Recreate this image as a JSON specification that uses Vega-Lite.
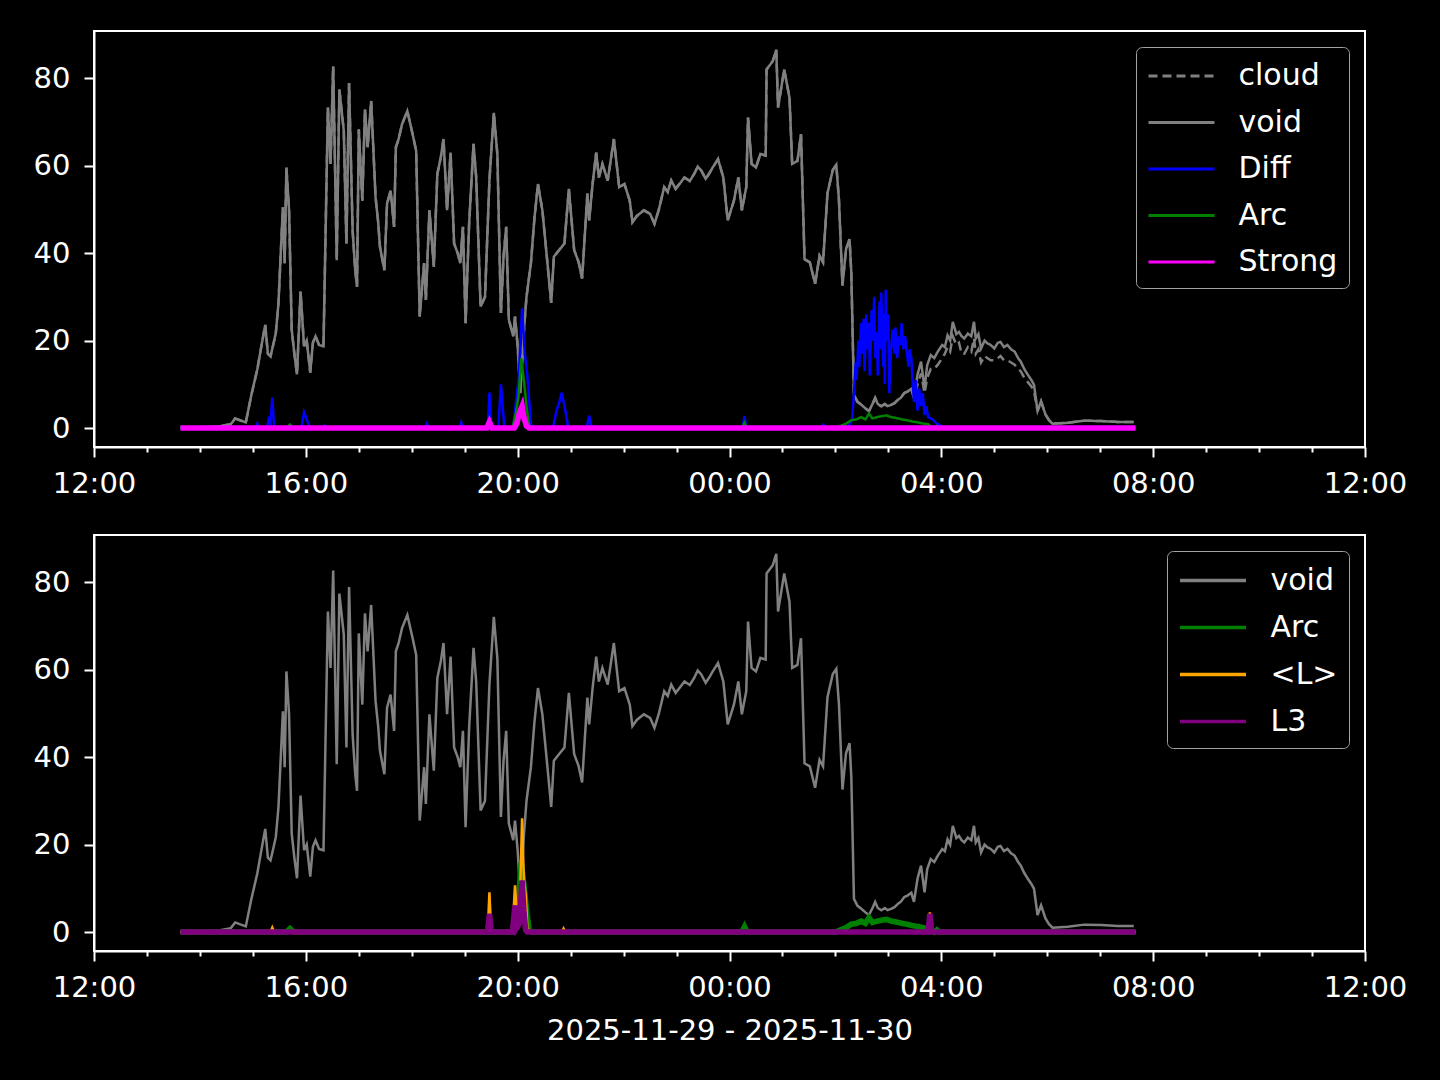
{
"$schema": "https://vega.github.io/schema/vega-lite/v6.json",
"background": "black",
"padding": {"left": 32, "top": 30, "right": 32, "bottom": 35},
"spacing": 88,
"bounds": "flush",
"datasets": {
"gray": [
{"t":"2025-11-29T13:38","void":0.2,"cloud":0.2},
{"t":"2025-11-29T14:00","void":0.2,"cloud":0.2},
{"t":"2025-11-29T14:20","void":0.3,"cloud":0.3},
{"t":"2025-11-29T14:35","void":0.9,"cloud":0.9},
{"t":"2025-11-29T14:40","void":2.2,"cloud":2.2},
{"t":"2025-11-29T14:45","void":1.8,"cloud":1.8},
{"t":"2025-11-29T14:52","void":1.3,"cloud":1.3},
{"t":"2025-11-29T14:58","void":7.3,"cloud":7.3},
{"t":"2025-11-29T15:05","void":13.4,"cloud":13.4},
{"t":"2025-11-29T15:09","void":18,"cloud":18},
{"t":"2025-11-29T15:14","void":23.6,"cloud":23.6},
{"t":"2025-11-29T15:17","void":17,"cloud":17},
{"t":"2025-11-29T15:20","void":16.4,"cloud":16.4},
{"t":"2025-11-29T15:23","void":19,"cloud":19},
{"t":"2025-11-29T15:26","void":21.7,"cloud":21.7},
{"t":"2025-11-29T15:29","void":28.6,"cloud":28.6},
{"t":"2025-11-29T15:34","void":50.5,"cloud":50.5},
{"t":"2025-11-29T15:36","void":37.7,"cloud":37.7},
{"t":"2025-11-29T15:38","void":59.6,"cloud":59.6},
{"t":"2025-11-29T15:41","void":49.8,"cloud":49.8},
{"t":"2025-11-29T15:44","void":22.5,"cloud":22.5},
{"t":"2025-11-29T15:47","void":17,"cloud":17},
{"t":"2025-11-29T15:50","void":12.3,"cloud":12.3},
{"t":"2025-11-29T15:54","void":31.2,"cloud":31.2},
{"t":"2025-11-29T15:58","void":18.7,"cloud":18.7},
{"t":"2025-11-29T16:01","void":20,"cloud":20},
{"t":"2025-11-29T16:05","void":12.7,"cloud":12.7},
{"t":"2025-11-29T16:08","void":19.5,"cloud":19.5},
{"t":"2025-11-29T16:11","void":21,"cloud":21},
{"t":"2025-11-29T16:15","void":19,"cloud":19},
{"t":"2025-11-29T16:20","void":18.7,"cloud":18.7},
{"t":"2025-11-29T16:25","void":73.3,"cloud":73.3},
{"t":"2025-11-29T16:28","void":60.4,"cloud":60.4},
{"t":"2025-11-29T16:31","void":82.7,"cloud":82.7},
{"t":"2025-11-29T16:35","void":38.4,"cloud":38.4},
{"t":"2025-11-29T16:38","void":77.4,"cloud":77.4},
{"t":"2025-11-29T16:43","void":68,"cloud":68},
{"t":"2025-11-29T16:46","void":42.2,"cloud":42.2},
{"t":"2025-11-29T16:49","void":78.9,"cloud":78.9},
{"t":"2025-11-29T16:53","void":45.2,"cloud":45.2},
{"t":"2025-11-29T16:56","void":36,"cloud":36},
{"t":"2025-11-29T16:58","void":32.3,"cloud":32.3},
{"t":"2025-11-29T17:00","void":68.3,"cloud":68.3},
{"t":"2025-11-29T17:04","void":52,"cloud":52},
{"t":"2025-11-29T17:07","void":72.9,"cloud":72.9},
{"t":"2025-11-29T17:10","void":64.2,"cloud":64.2},
{"t":"2025-11-29T17:14","void":74.8,"cloud":74.8},
{"t":"2025-11-29T17:19","void":52.8,"cloud":52.8},
{"t":"2025-11-29T17:22","void":47,"cloud":47},
{"t":"2025-11-29T17:24","void":41.4,"cloud":41.4},
{"t":"2025-11-29T17:29","void":36.1,"cloud":36.1},
{"t":"2025-11-29T17:32","void":51.3,"cloud":51.3},
{"t":"2025-11-29T17:36","void":54.3,"cloud":54.3},
{"t":"2025-11-29T17:40","void":46,"cloud":46},
{"t":"2025-11-29T17:42","void":64.2,"cloud":64.2},
{"t":"2025-11-29T17:45","void":66,"cloud":66},
{"t":"2025-11-29T17:49","void":69.5,"cloud":69.5},
{"t":"2025-11-29T17:55","void":72.5,"cloud":72.5},
{"t":"2025-11-29T18:01","void":67.2,"cloud":67.2},
{"t":"2025-11-29T18:05","void":63.4,"cloud":63.4},
{"t":"2025-11-29T18:09","void":25.5,"cloud":25.5},
{"t":"2025-11-29T18:14","void":37.7,"cloud":37.7},
{"t":"2025-11-29T18:16","void":29.3,"cloud":29.3},
{"t":"2025-11-29T18:20","void":49.8,"cloud":49.8},
{"t":"2025-11-29T18:25","void":36.9,"cloud":36.9},
{"t":"2025-11-29T18:29","void":58.1,"cloud":58.1},
{"t":"2025-11-29T18:33","void":62,"cloud":62},
{"t":"2025-11-29T18:36","void":66.1,"cloud":66.1},
{"t":"2025-11-29T18:40","void":49.8,"cloud":49.8},
{"t":"2025-11-29T18:44","void":63,"cloud":63},
{"t":"2025-11-29T18:48","void":42.2,"cloud":42.2},
{"t":"2025-11-29T18:52","void":40,"cloud":40},
{"t":"2025-11-29T18:55","void":37.7,"cloud":37.7},
{"t":"2025-11-29T18:58","void":46,"cloud":46},
{"t":"2025-11-29T19:01","void":24,"cloud":24},
{"t":"2025-11-29T19:05","void":46.7,"cloud":46.7},
{"t":"2025-11-29T19:10","void":65,"cloud":65},
{"t":"2025-11-29T19:13","void":57.3,"cloud":57.3},
{"t":"2025-11-29T19:18","void":27.8,"cloud":27.8},
{"t":"2025-11-29T19:23","void":30,"cloud":30},
{"t":"2025-11-29T19:28","void":56.6,"cloud":56.6},
{"t":"2025-11-29T19:33","void":72.1,"cloud":72.1},
{"t":"2025-11-29T19:37","void":62.6,"cloud":62.6},
{"t":"2025-11-29T19:41","void":26.3,"cloud":26.3},
{"t":"2025-11-29T19:44","void":39.2,"cloud":39.2},
{"t":"2025-11-29T19:47","void":46,"cloud":46},
{"t":"2025-11-29T19:50","void":24.8,"cloud":24.8},
{"t":"2025-11-29T19:55","void":21,"cloud":21},
{"t":"2025-11-29T19:57","void":25.5,"cloud":25.5},
{"t":"2025-11-29T20:00","void":18.7,"cloud":18.7},
{"t":"2025-11-29T20:03","void":8,"cloud":8},
{"t":"2025-11-29T20:07","void":22,"cloud":22},
{"t":"2025-11-29T20:10","void":30,"cloud":30},
{"t":"2025-11-29T20:15","void":37.7,"cloud":37.7},
{"t":"2025-11-29T20:19","void":48,"cloud":48},
{"t":"2025-11-29T20:23","void":55.8,"cloud":55.8},
{"t":"2025-11-29T20:28","void":49.8,"cloud":49.8},
{"t":"2025-11-29T20:32","void":41.4,"cloud":41.4},
{"t":"2025-11-29T20:38","void":28.6,"cloud":28.6},
{"t":"2025-11-29T20:41","void":39.2,"cloud":39.2},
{"t":"2025-11-29T20:47","void":40.7,"cloud":40.7},
{"t":"2025-11-29T20:53","void":42.2,"cloud":42.2},
{"t":"2025-11-29T20:58","void":54.7,"cloud":54.7},
{"t":"2025-11-29T21:04","void":40.7,"cloud":40.7},
{"t":"2025-11-29T21:09","void":38,"cloud":38},
{"t":"2025-11-29T21:13","void":34.2,"cloud":34.2},
{"t":"2025-11-29T21:19","void":53.6,"cloud":53.6},
{"t":"2025-11-29T21:21","void":47.5,"cloud":47.5},
{"t":"2025-11-29T21:25","void":56,"cloud":56},
{"t":"2025-11-29T21:29","void":63,"cloud":63},
{"t":"2025-11-29T21:32","void":57.3,"cloud":57.3},
{"t":"2025-11-29T21:36","void":60.4,"cloud":60.4},
{"t":"2025-11-29T21:42","void":56.6,"cloud":56.6},
{"t":"2025-11-29T21:49","void":66.1,"cloud":66.1},
{"t":"2025-11-29T21:55","void":55.1,"cloud":55.1},
{"t":"2025-11-29T22:01","void":55.8,"cloud":55.8},
{"t":"2025-11-29T22:07","void":52,"cloud":52},
{"t":"2025-11-29T22:10","void":47.1,"cloud":47.1},
{"t":"2025-11-29T22:15","void":48.5,"cloud":48.5},
{"t":"2025-11-29T22:23","void":49.8,"cloud":49.8},
{"t":"2025-11-29T22:30","void":49,"cloud":49},
{"t":"2025-11-29T22:35","void":46.7,"cloud":46.7},
{"t":"2025-11-29T22:40","void":50,"cloud":50},
{"t":"2025-11-29T22:46","void":55.1,"cloud":55.1},
{"t":"2025-11-29T22:50","void":54,"cloud":54},
{"t":"2025-11-29T22:54","void":56.6,"cloud":56.6},
{"t":"2025-11-29T22:59","void":54.7,"cloud":54.7},
{"t":"2025-11-29T23:04","void":56,"cloud":56},
{"t":"2025-11-29T23:09","void":57.3,"cloud":57.3},
{"t":"2025-11-29T23:15","void":56.5,"cloud":56.5},
{"t":"2025-11-29T23:20","void":58.1,"cloud":58.1},
{"t":"2025-11-29T23:24","void":59.8,"cloud":59.8},
{"t":"2025-11-29T23:28","void":58.9,"cloud":58.9},
{"t":"2025-11-29T23:33","void":57,"cloud":57},
{"t":"2025-11-29T23:37","void":58.2,"cloud":58.2},
{"t":"2025-11-29T23:41","void":59.6,"cloud":59.6},
{"t":"2025-11-29T23:47","void":61.5,"cloud":61.5},
{"t":"2025-11-29T23:53","void":57.3,"cloud":57.3},
{"t":"2025-11-29T23:58","void":47.5,"cloud":47.5},
{"t":"2025-11-30T00:05","void":52,"cloud":52},
{"t":"2025-11-30T00:10","void":57.3,"cloud":57.3},
{"t":"2025-11-30T00:14","void":49.8,"cloud":49.8},
{"t":"2025-11-30T00:19","void":55.1,"cloud":55.1},
{"t":"2025-11-30T00:21","void":71,"cloud":71},
{"t":"2025-11-30T00:25","void":60.4,"cloud":60.4},
{"t":"2025-11-30T00:30","void":59.6,"cloud":59.6},
{"t":"2025-11-30T00:35","void":62.7,"cloud":62.7},
{"t":"2025-11-30T00:41","void":62.3,"cloud":62.3},
{"t":"2025-11-30T00:42","void":82,"cloud":82},
{"t":"2025-11-30T00:49","void":83.9,"cloud":83.9},
{"t":"2025-11-30T00:53","void":86.5,"cloud":86.5},
{"t":"2025-11-30T00:55","void":73.3,"cloud":73.3},
{"t":"2025-11-30T01:02","void":82,"cloud":82},
{"t":"2025-11-30T01:08","void":75.5,"cloud":75.5},
{"t":"2025-11-30T01:11","void":60.4,"cloud":60.4},
{"t":"2025-11-30T01:17","void":61.1,"cloud":61.1},
{"t":"2025-11-30T01:21","void":67.2,"cloud":67.2},
{"t":"2025-11-30T01:25","void":38.6,"cloud":38.6},
{"t":"2025-11-30T01:31","void":37.9,"cloud":37.9},
{"t":"2025-11-30T01:37","void":33,"cloud":33},
{"t":"2025-11-30T01:42","void":39.4,"cloud":39.4},
{"t":"2025-11-30T01:46","void":37.9,"cloud":37.9},
{"t":"2025-11-30T01:51","void":53.7,"cloud":53.7},
{"t":"2025-11-30T01:57","void":59,"cloud":59},
{"t":"2025-11-30T02:01","void":60.2,"cloud":60.2},
{"t":"2025-11-30T02:04","void":52.2,"cloud":52.2},
{"t":"2025-11-30T02:08","void":32.6,"cloud":32.6},
{"t":"2025-11-30T02:12","void":40.9,"cloud":40.9},
{"t":"2025-11-30T02:16","void":43.2,"cloud":43.2},
{"t":"2025-11-30T02:18","void":35.6,"cloud":35.6},
{"t":"2025-11-30T02:21","void":7.6,"cloud":7.6},
{"t":"2025-11-30T02:25","void":6,"cloud":6},
{"t":"2025-11-30T02:29","void":5.4,"cloud":5.4},
{"t":"2025-11-30T02:34","void":4.5,"cloud":4.5},
{"t":"2025-11-30T02:38","void":3.9,"cloud":3.9},
{"t":"2025-11-30T02:42","void":5.5,"cloud":5.5},
{"t":"2025-11-30T02:45","void":6.9,"cloud":6.9},
{"t":"2025-11-30T02:48","void":5.5,"cloud":5.5},
{"t":"2025-11-30T02:52","void":5,"cloud":5},
{"t":"2025-11-30T02:56","void":5.5,"cloud":5.5},
{"t":"2025-11-30T02:59","void":5,"cloud":5},
{"t":"2025-11-30T03:03","void":5.3,"cloud":5.3},
{"t":"2025-11-30T03:07","void":5.7,"cloud":5.7},
{"t":"2025-11-30T03:11","void":6.5,"cloud":6.5},
{"t":"2025-11-30T03:14","void":6.9,"cloud":6.9},
{"t":"2025-11-30T03:18","void":8,"cloud":8},
{"t":"2025-11-30T03:22","void":8.4,"cloud":8.4},
{"t":"2025-11-30T03:26","void":9,"cloud":9},
{"t":"2025-11-30T03:29","void":6.9,"cloud":6.9},
{"t":"2025-11-30T03:33","void":12.2,"cloud":10},
{"t":"2025-11-30T03:37","void":15.2,"cloud":12.5},
{"t":"2025-11-30T03:41","void":9.1,"cloud":8},
{"t":"2025-11-30T03:44","void":14.4,"cloud":11.5},
{"t":"2025-11-30T03:48","void":16.7,"cloud":13.5},
{"t":"2025-11-30T03:52","void":16,"cloud":13.5},
{"t":"2025-11-30T03:56","void":17.5,"cloud":14.5},
{"t":"2025-11-30T04:01","void":19,"cloud":16},
{"t":"2025-11-30T04:04","void":18.5,"cloud":17},
{"t":"2025-11-30T04:07","void":21.2,"cloud":18.5},
{"t":"2025-11-30T04:10","void":20,"cloud":17.5},
{"t":"2025-11-30T04:13","void":24.3,"cloud":21},
{"t":"2025-11-30T04:17","void":21.5,"cloud":19},
{"t":"2025-11-30T04:20","void":22,"cloud":19.5},
{"t":"2025-11-30T04:23","void":21,"cloud":17},
{"t":"2025-11-30T04:26","void":20.5,"cloud":17},
{"t":"2025-11-30T04:30","void":21.6,"cloud":18.5},
{"t":"2025-11-30T04:34","void":21,"cloud":17.5},
{"t":"2025-11-30T04:37","void":24.3,"cloud":20.5},
{"t":"2025-11-30T04:39","void":20.5,"cloud":17},
{"t":"2025-11-30T04:42","void":21.5,"cloud":18},
{"t":"2025-11-30T04:45","void":18.2,"cloud":15},
{"t":"2025-11-30T04:49","void":20,"cloud":16.5},
{"t":"2025-11-30T04:52","void":19.4,"cloud":16},
{"t":"2025-11-30T04:56","void":19,"cloud":15.5},
{"t":"2025-11-30T05:00","void":18.2,"cloud":15.5},
{"t":"2025-11-30T05:04","void":19.5,"cloud":16},
{"t":"2025-11-30T05:07","void":19.7,"cloud":16.5},
{"t":"2025-11-30T05:11","void":18.5,"cloud":15.5},
{"t":"2025-11-30T05:15","void":19,"cloud":15.5},
{"t":"2025-11-30T05:19","void":18,"cloud":15},
{"t":"2025-11-30T05:23","void":17.5,"cloud":14.5},
{"t":"2025-11-30T05:27","void":16,"cloud":13.5},
{"t":"2025-11-30T05:30","void":15.2,"cloud":13},
{"t":"2025-11-30T05:34","void":13.5,"cloud":11.5},
{"t":"2025-11-30T05:38","void":12.2,"cloud":10.5},
{"t":"2025-11-30T05:42","void":11,"cloud":9.5},
{"t":"2025-11-30T05:45","void":9.9,"cloud":8.5},
{"t":"2025-11-30T05:49","void":3.9,"cloud":3.9},
{"t":"2025-11-30T05:53","void":6.1,"cloud":6.1},
{"t":"2025-11-30T05:58","void":3.1,"cloud":3.1},
{"t":"2025-11-30T06:02","void":1.8,"cloud":1.8},
{"t":"2025-11-30T06:06","void":1,"cloud":1},
{"t":"2025-11-30T06:23","void":1.2,"cloud":1.2},
{"t":"2025-11-30T06:42","void":1.7,"cloud":1.7},
{"t":"2025-11-30T07:01","void":1.6,"cloud":1.6},
{"t":"2025-11-30T07:20","void":1.4,"cloud":1.4},
{"t":"2025-11-30T07:38","void":1.4,"cloud":1.4}
],
"sig": [
{"s":"Diff","t":"2025-11-29T13:38","v":0},
{"s":"Diff","t":"2025-11-29T15:03","v":0},
{"s":"Diff","t":"2025-11-29T15:05","v":1},
{"s":"Diff","t":"2025-11-29T15:07","v":0},
{"s":"Diff","t":"2025-11-29T15:16","v":0},
{"s":"Diff","t":"2025-11-29T15:18","v":2},
{"s":"Diff","t":"2025-11-29T15:20","v":1.2},
{"s":"Diff","t":"2025-11-29T15:22","v":7},
{"s":"Diff","t":"2025-11-29T15:24","v":0.5},
{"s":"Diff","t":"2025-11-29T15:26","v":0},
{"s":"Diff","t":"2025-11-29T15:55","v":0},
{"s":"Diff","t":"2025-11-29T15:58","v":3.6},
{"s":"Diff","t":"2025-11-29T16:01","v":2},
{"s":"Diff","t":"2025-11-29T16:04","v":0.3},
{"s":"Diff","t":"2025-11-29T16:20","v":0},
{"s":"Diff","t":"2025-11-29T16:21","v":0.8},
{"s":"Diff","t":"2025-11-29T16:22","v":0},
{"s":"Diff","t":"2025-11-29T18:15","v":0},
{"s":"Diff","t":"2025-11-29T18:17","v":1},
{"s":"Diff","t":"2025-11-29T18:19","v":0},
{"s":"Diff","t":"2025-11-29T18:54","v":0},
{"s":"Diff","t":"2025-11-29T18:56","v":1.3},
{"s":"Diff","t":"2025-11-29T18:58","v":0},
{"s":"Diff","t":"2025-11-29T19:26","v":0},
{"s":"Diff","t":"2025-11-29T19:28","v":8.1},
{"s":"Diff","t":"2025-11-29T19:30","v":0},
{"s":"Diff","t":"2025-11-29T19:38","v":0},
{"s":"Diff","t":"2025-11-29T19:41","v":10},
{"s":"Diff","t":"2025-11-29T19:43","v":5},
{"s":"Diff","t":"2025-11-29T19:45","v":0},
{"s":"Diff","t":"2025-11-29T19:55","v":0},
{"s":"Diff","t":"2025-11-29T19:58","v":5.8},
{"s":"Diff","t":"2025-11-29T20:01","v":11},
{"s":"Diff","t":"2025-11-29T20:05","v":27.4},
{"s":"Diff","t":"2025-11-29T20:08","v":17.2},
{"s":"Diff","t":"2025-11-29T20:11","v":11.9},
{"s":"Diff","t":"2025-11-29T20:15","v":0.9},
{"s":"Diff","t":"2025-11-29T20:17","v":0},
{"s":"Diff","t":"2025-11-29T20:40","v":0},
{"s":"Diff","t":"2025-11-29T20:44","v":4},
{"s":"Diff","t":"2025-11-29T20:47","v":5.8},
{"s":"Diff","t":"2025-11-29T20:50","v":8.1},
{"s":"Diff","t":"2025-11-29T20:53","v":5.1},
{"s":"Diff","t":"2025-11-29T20:57","v":0.5},
{"s":"Diff","t":"2025-11-29T21:00","v":0},
{"s":"Diff","t":"2025-11-29T21:18","v":0},
{"s":"Diff","t":"2025-11-29T21:21","v":2.8},
{"s":"Diff","t":"2025-11-29T21:24","v":0},
{"s":"Diff","t":"2025-11-30T00:15","v":0},
{"s":"Diff","t":"2025-11-30T00:17","v":2.8},
{"s":"Diff","t":"2025-11-30T00:19","v":0},
{"s":"Diff","t":"2025-11-30T01:45","v":0},
{"s":"Diff","t":"2025-11-30T01:46","v":1},
{"s":"Diff","t":"2025-11-30T01:47","v":0},
{"s":"Diff","t":"2025-11-30T02:14","v":0},
{"s":"Diff","t":"2025-11-30T02:19","v":2},
{"s":"Diff","t":"2025-11-30T02:21","v":8},
{"s":"Diff","t":"2025-11-30T02:23","v":15},
{"s":"Diff","t":"2025-11-30T02:24","v":11},
{"s":"Diff","t":"2025-11-30T02:26","v":20},
{"s":"Diff","t":"2025-11-30T02:27","v":14},
{"s":"Diff","t":"2025-11-30T02:29","v":24},
{"s":"Diff","t":"2025-11-30T02:30","v":17},
{"s":"Diff","t":"2025-11-30T02:32","v":25},
{"s":"Diff","t":"2025-11-30T02:33","v":13},
{"s":"Diff","t":"2025-11-30T02:35","v":26},
{"s":"Diff","t":"2025-11-30T02:36","v":18},
{"s":"Diff","t":"2025-11-30T02:38","v":24},
{"s":"Diff","t":"2025-11-30T02:39","v":12},
{"s":"Diff","t":"2025-11-30T02:41","v":27},
{"s":"Diff","t":"2025-11-30T02:42","v":20},
{"s":"Diff","t":"2025-11-30T02:44","v":30},
{"s":"Diff","t":"2025-11-30T02:45","v":16},
{"s":"Diff","t":"2025-11-30T02:47","v":22},
{"s":"Diff","t":"2025-11-30T02:48","v":12},
{"s":"Diff","t":"2025-11-30T02:50","v":29},
{"s":"Diff","t":"2025-11-30T02:51","v":18},
{"s":"Diff","t":"2025-11-30T02:52","v":31},
{"s":"Diff","t":"2025-11-30T02:54","v":14},
{"s":"Diff","t":"2025-11-30T02:55","v":26},
{"s":"Diff","t":"2025-11-30T02:56","v":10},
{"s":"Diff","t":"2025-11-30T02:57","v":31.6},
{"s":"Diff","t":"2025-11-30T02:58","v":20},
{"s":"Diff","t":"2025-11-30T03:00","v":26},
{"s":"Diff","t":"2025-11-30T03:01","v":8},
{"s":"Diff","t":"2025-11-30T03:03","v":18},
{"s":"Diff","t":"2025-11-30T03:05","v":22.5},
{"s":"Diff","t":"2025-11-30T03:07","v":17},
{"s":"Diff","t":"2025-11-30T03:08","v":23},
{"s":"Diff","t":"2025-11-30T03:10","v":16},
{"s":"Diff","t":"2025-11-30T03:12","v":21},
{"s":"Diff","t":"2025-11-30T03:14","v":19},
{"s":"Diff","t":"2025-11-30T03:15","v":24},
{"s":"Diff","t":"2025-11-30T03:17","v":18},
{"s":"Diff","t":"2025-11-30T03:19","v":21},
{"s":"Diff","t":"2025-11-30T03:21","v":17},
{"s":"Diff","t":"2025-11-30T03:23","v":14},
{"s":"Diff","t":"2025-11-30T03:24","v":18},
{"s":"Diff","t":"2025-11-30T03:26","v":16},
{"s":"Diff","t":"2025-11-30T03:27","v":12},
{"s":"Diff","t":"2025-11-30T03:29","v":6},
{"s":"Diff","t":"2025-11-30T03:31","v":11},
{"s":"Diff","t":"2025-11-30T03:33","v":4},
{"s":"Diff","t":"2025-11-30T03:35","v":9},
{"s":"Diff","t":"2025-11-30T03:37","v":5},
{"s":"Diff","t":"2025-11-30T03:39","v":8},
{"s":"Diff","t":"2025-11-30T03:41","v":3},
{"s":"Diff","t":"2025-11-30T03:43","v":5},
{"s":"Diff","t":"2025-11-30T03:45","v":2.5},
{"s":"Diff","t":"2025-11-30T03:50","v":2},
{"s":"Diff","t":"2025-11-30T03:55","v":1},
{"s":"Diff","t":"2025-11-30T04:00","v":0.5},
{"s":"Diff","t":"2025-11-30T04:05","v":0},
{"s":"Diff","t":"2025-11-30T07:40","v":0},
{"s":"Arc","t":"2025-11-29T13:38","v":0},
{"s":"Arc","t":"2025-11-29T15:38","v":0},
{"s":"Arc","t":"2025-11-29T15:42","v":0.8},
{"s":"Arc","t":"2025-11-29T15:46","v":0},
{"s":"Arc","t":"2025-11-29T19:54","v":0},
{"s":"Arc","t":"2025-11-29T19:58","v":3.5},
{"s":"Arc","t":"2025-11-29T20:01","v":7.3},
{"s":"Arc","t":"2025-11-29T20:04","v":16},
{"s":"Arc","t":"2025-11-29T20:07","v":11},
{"s":"Arc","t":"2025-11-29T20:10","v":5},
{"s":"Arc","t":"2025-11-29T20:13","v":0.5},
{"s":"Arc","t":"2025-11-29T20:16","v":0},
{"s":"Arc","t":"2025-11-30T00:14","v":0},
{"s":"Arc","t":"2025-11-30T00:17","v":1.2},
{"s":"Arc","t":"2025-11-30T00:20","v":0},
{"s":"Arc","t":"2025-11-30T02:00","v":0},
{"s":"Arc","t":"2025-11-30T02:06","v":0.5},
{"s":"Arc","t":"2025-11-30T02:12","v":1},
{"s":"Arc","t":"2025-11-30T02:18","v":1.8},
{"s":"Arc","t":"2025-11-30T02:24","v":2},
{"s":"Arc","t":"2025-11-30T02:29","v":2.5},
{"s":"Arc","t":"2025-11-30T02:34","v":2},
{"s":"Arc","t":"2025-11-30T02:38","v":3.3},
{"s":"Arc","t":"2025-11-30T02:42","v":2.2},
{"s":"Arc","t":"2025-11-30T02:47","v":2.5},
{"s":"Arc","t":"2025-11-30T02:52","v":2.7},
{"s":"Arc","t":"2025-11-30T02:58","v":2.9},
{"s":"Arc","t":"2025-11-30T03:03","v":2.5},
{"s":"Arc","t":"2025-11-30T03:09","v":2.3},
{"s":"Arc","t":"2025-11-30T03:15","v":2},
{"s":"Arc","t":"2025-11-30T03:21","v":1.8},
{"s":"Arc","t":"2025-11-30T03:27","v":1.5},
{"s":"Arc","t":"2025-11-30T03:33","v":1.3},
{"s":"Arc","t":"2025-11-30T03:40","v":1},
{"s":"Arc","t":"2025-11-30T03:45","v":0.9},
{"s":"Arc","t":"2025-11-30T03:48","v":0.4},
{"s":"Arc","t":"2025-11-30T03:52","v":0},
{"s":"Arc","t":"2025-11-30T03:55","v":0.5},
{"s":"Arc","t":"2025-11-30T03:58","v":0},
{"s":"Arc","t":"2025-11-30T07:40","v":0},
{"s":"Strong","t":"2025-11-29T13:38","v":0},
{"s":"Strong","t":"2025-11-29T19:25","v":0},
{"s":"Strong","t":"2025-11-29T19:28","v":1.4},
{"s":"Strong","t":"2025-11-29T19:31","v":0},
{"s":"Strong","t":"2025-11-29T19:56","v":0},
{"s":"Strong","t":"2025-11-29T19:59","v":1},
{"s":"Strong","t":"2025-11-29T20:02","v":3.5},
{"s":"Strong","t":"2025-11-29T20:05","v":5},
{"s":"Strong","t":"2025-11-29T20:07","v":2.5},
{"s":"Strong","t":"2025-11-29T20:10","v":0.5},
{"s":"Strong","t":"2025-11-29T20:13","v":0},
{"s":"Strong","t":"2025-11-30T07:40","v":0},
{"s":"<L>","t":"2025-11-29T13:38","v":0},
{"s":"<L>","t":"2025-11-29T15:20","v":0},
{"s":"<L>","t":"2025-11-29T15:22","v":1},
{"s":"<L>","t":"2025-11-29T15:24","v":0},
{"s":"<L>","t":"2025-11-29T19:26","v":0},
{"s":"<L>","t":"2025-11-29T19:28","v":9.1},
{"s":"<L>","t":"2025-11-29T19:30","v":0},
{"s":"<L>","t":"2025-11-29T19:54","v":0},
{"s":"<L>","t":"2025-11-29T19:57","v":10.7},
{"s":"<L>","t":"2025-11-29T19:59","v":4},
{"s":"<L>","t":"2025-11-29T20:02","v":3},
{"s":"<L>","t":"2025-11-29T20:05","v":26},
{"s":"<L>","t":"2025-11-29T20:07","v":12},
{"s":"<L>","t":"2025-11-29T20:09","v":8.8},
{"s":"<L>","t":"2025-11-29T20:11","v":1},
{"s":"<L>","t":"2025-11-29T20:13","v":0},
{"s":"<L>","t":"2025-11-29T20:50","v":0},
{"s":"<L>","t":"2025-11-29T20:52","v":0.8},
{"s":"<L>","t":"2025-11-29T20:54","v":0},
{"s":"<L>","t":"2025-11-30T03:45","v":0},
{"s":"<L>","t":"2025-11-30T03:47","v":4.5},
{"s":"<L>","t":"2025-11-30T03:49","v":0},
{"s":"<L>","t":"2025-11-30T07:40","v":0},
{"s":"L3","t":"2025-11-29T13:38","v":0},
{"s":"L3","t":"2025-11-29T19:26","v":0},
{"s":"L3","t":"2025-11-29T19:28","v":4.2},
{"s":"L3","t":"2025-11-29T19:30","v":0},
{"s":"L3","t":"2025-11-29T19:54","v":0},
{"s":"L3","t":"2025-11-29T19:57","v":6.1},
{"s":"L3","t":"2025-11-29T19:59","v":1},
{"s":"L3","t":"2025-11-29T20:02","v":2},
{"s":"L3","t":"2025-11-29T20:05","v":11.8},
{"s":"L3","t":"2025-11-29T20:07","v":5},
{"s":"L3","t":"2025-11-29T20:09","v":0.5},
{"s":"L3","t":"2025-11-29T20:11","v":0},
{"s":"L3","t":"2025-11-30T03:45","v":0},
{"s":"L3","t":"2025-11-30T03:47","v":4.2},
{"s":"L3","t":"2025-11-30T03:49","v":0},
{"s":"L3","t":"2025-11-30T07:40","v":0}
]
},
"vconcat": [
{
"width": 1271,
"height": 416,
"encoding": {
"x": {"field": "t", "type": "temporal", "title": null,
 "scale": {"domain": ["2025-11-29T12:00", "2025-11-30T12:00"], "nice": false},
 "axis": null},
"y": {"field": "v", "type": "quantitative", "title": null,
 "scale": {"domain": [-4.33, 90.8], "nice": false, "zero": false},
 "axis": {"values": [0, 20, 40, 60, 80], "tickSize": 10, "labelPadding": 14}},
"color": {"field": "s", "type": "nominal",
 "scale": {"domain": ["cloud", "void", "Diff", "Arc", "Strong"], "range": ["#808080", "#808080", "#0000ff", "#008000", "#ff00ff"]},
 "legend": {"title": null, "orient": "top-right", "offset": 16, "symbolType": "M-2,0H2", "symbolSize": 1089, "symbolOffset": 16.5, "labelOffset": 39, "rowPadding": 13.5, "padding": 11, "symbolStrokeWidth": 2.8}},
"strokeDash": {"field": "s", "type": "nominal",
 "scale": {"domain": ["cloud", "void", "Diff", "Arc", "Strong"], "range": [[9, 5], [1, 0], [1, 0], [1, 0], [1, 0]]},
 "legend": {"title": null, "orient": "top-right", "offset": 16, "symbolType": "M-2,0H2", "symbolSize": 1089, "symbolOffset": 16.5, "labelOffset": 39, "rowPadding": 13.5, "padding": 11, "symbolStrokeWidth": 2.8}}
},
"layer": [
{"data": {"name": "gray"}, "transform": [{"fold": ["cloud"], "as": ["s", "v"]}], "mark": {"type": "line", "strokeWidth": 2.5},
 "encoding": {"x": {"field": "t", "type": "temporal", "title": null,
  "scale": {"domain": ["2025-11-29T12:00", "2025-11-30T12:00"], "nice": false},
  "axis": {"orient": "bottom", "values": ["2025-11-29T12:00", "2025-11-29T16:00", "2025-11-29T20:00", "2025-11-30T00:00", "2025-11-30T04:00", "2025-11-30T08:00", "2025-11-30T12:00"], "format": "%H:%M", "tickSize": 10, "labelPadding": 12, "labelOverlap": false, "labelFlush": false}}}},
{"data": {"name": "gray"}, "transform": [{"fold": ["void"], "as": ["s", "v"]}], "mark": {"type": "line", "strokeWidth": 2.5},
 "encoding": {"x": {"field": "t", "type": "temporal", "title": null,
  "scale": {"domain": ["2025-11-29T12:00", "2025-11-30T12:00"], "nice": false},
  "axis": {"orient": "bottom", "values": ["2025-11-29T13:00", "2025-11-29T14:00", "2025-11-29T15:00", "2025-11-29T17:00", "2025-11-29T18:00", "2025-11-29T19:00", "2025-11-29T21:00", "2025-11-29T22:00", "2025-11-29T23:00", "2025-11-30T01:00", "2025-11-30T02:00", "2025-11-30T03:00", "2025-11-30T05:00", "2025-11-30T06:00", "2025-11-30T07:00", "2025-11-30T09:00", "2025-11-30T10:00", "2025-11-30T11:00"], "labels": false, "domain": false, "tickSize": 5}}}},
{"data": {"name": "sig"}, "transform": [{"filter": "datum.s === 'Diff'"}], "mark": {"type": "line", "strokeWidth": 2.5}},
{"data": {"name": "sig"}, "transform": [{"filter": "datum.s === 'Arc'"}], "mark": {"type": "line", "strokeWidth": 2.5}},
{"data": {"name": "sig"}, "transform": [{"filter": "datum.s === 'Strong'"}], "mark": {"type": "line", "strokeWidth": 5.6}}
],
"resolve": {"axis": {"x": "independent"}}
},
{
"width": 1271,
"height": 416,
"encoding": {
"x": {"field": "t", "type": "temporal", "title": null,
 "scale": {"domain": ["2025-11-29T12:00", "2025-11-30T12:00"], "nice": false},
 "axis": null},
"y": {"field": "v", "type": "quantitative", "title": null,
 "scale": {"domain": [-4.33, 90.8], "nice": false, "zero": false},
 "axis": {"values": [0, 20, 40, 60, 80], "tickSize": 10, "labelPadding": 14}},
"color": {"field": "s", "type": "nominal",
 "scale": {"domain": ["void", "Arc", "<L>", "L3"], "range": ["#808080", "#008000", "#ffa500", "#800080"]},
 "legend": {"title": null, "orient": "top-right", "offset": 16, "symbolType": "M-2,0H2", "symbolSize": 1089, "symbolOffset": 16.5, "labelOffset": 39, "rowPadding": 13, "padding": 11, "symbolStrokeWidth": 3.5}}
},
"layer": [
{"data": {"name": "gray"}, "transform": [{"fold": ["void"], "as": ["s", "v"]}], "mark": {"type": "line", "strokeWidth": 2.5},
 "encoding": {"x": {"field": "t", "type": "temporal", "title": "2025-11-29 - 2025-11-30",
  "scale": {"domain": ["2025-11-29T12:00", "2025-11-30T12:00"], "nice": false},
  "axis": {"orient": "bottom", "values": ["2025-11-29T12:00", "2025-11-29T16:00", "2025-11-29T20:00", "2025-11-30T00:00", "2025-11-30T04:00", "2025-11-30T08:00", "2025-11-30T12:00"], "format": "%H:%M", "tickSize": 10, "labelPadding": 12, "labelOverlap": false, "labelFlush": false, "titlePadding": 14}}}},
{"data": {"name": "sig"}, "transform": [{"filter": "datum.s === 'Arc'"}], "mark": {"type": "line", "strokeWidth": 5.6},
 "encoding": {"x": {"field": "t", "type": "temporal", "title": null,
  "scale": {"domain": ["2025-11-29T12:00", "2025-11-30T12:00"], "nice": false},
  "axis": {"orient": "bottom", "values": ["2025-11-29T13:00", "2025-11-29T14:00", "2025-11-29T15:00", "2025-11-29T17:00", "2025-11-29T18:00", "2025-11-29T19:00", "2025-11-29T21:00", "2025-11-29T22:00", "2025-11-29T23:00", "2025-11-30T01:00", "2025-11-30T02:00", "2025-11-30T03:00", "2025-11-30T05:00", "2025-11-30T06:00", "2025-11-30T07:00", "2025-11-30T09:00", "2025-11-30T10:00", "2025-11-30T11:00"], "labels": false, "domain": false, "tickSize": 5}}}},
{"data": {"name": "sig"}, "transform": [{"filter": "datum.s === '<L>'"}], "mark": {"type": "line", "strokeWidth": 2.5}},
{"data": {"name": "sig"}, "transform": [{"filter": "datum.s === 'L3'"}], "mark": {"type": "line", "strokeWidth": 5.6}}
],
"resolve": {"axis": {"x": "independent"}}
}
],
"resolve": {"scale": {"color": "independent", "strokeDash": "independent"}, "legend": {"color": "independent", "strokeDash": "independent"}},
"config": {
"font": "DejaVu Sans",
"view": {"stroke": "white", "strokeWidth": 2},
"axis": {"domainColor": "white", "domainWidth": 2, "tickColor": "white", "tickWidth": 2, "labelColor": "white", "labelFontSize": 29, "labelFont": "DejaVu Sans", "grid": false, "titleColor": "white", "titleFontSize": 29, "titleFontWeight": "normal", "titleFont": "DejaVu Sans"},
"legend": {"fillColor": "black", "strokeColor": "#a3a3a3", "cornerRadius": 6, "labelFontSize": 30, "labelColor": "white", "labelFont": "DejaVu Sans", "labelLimit": 400}
}
}
